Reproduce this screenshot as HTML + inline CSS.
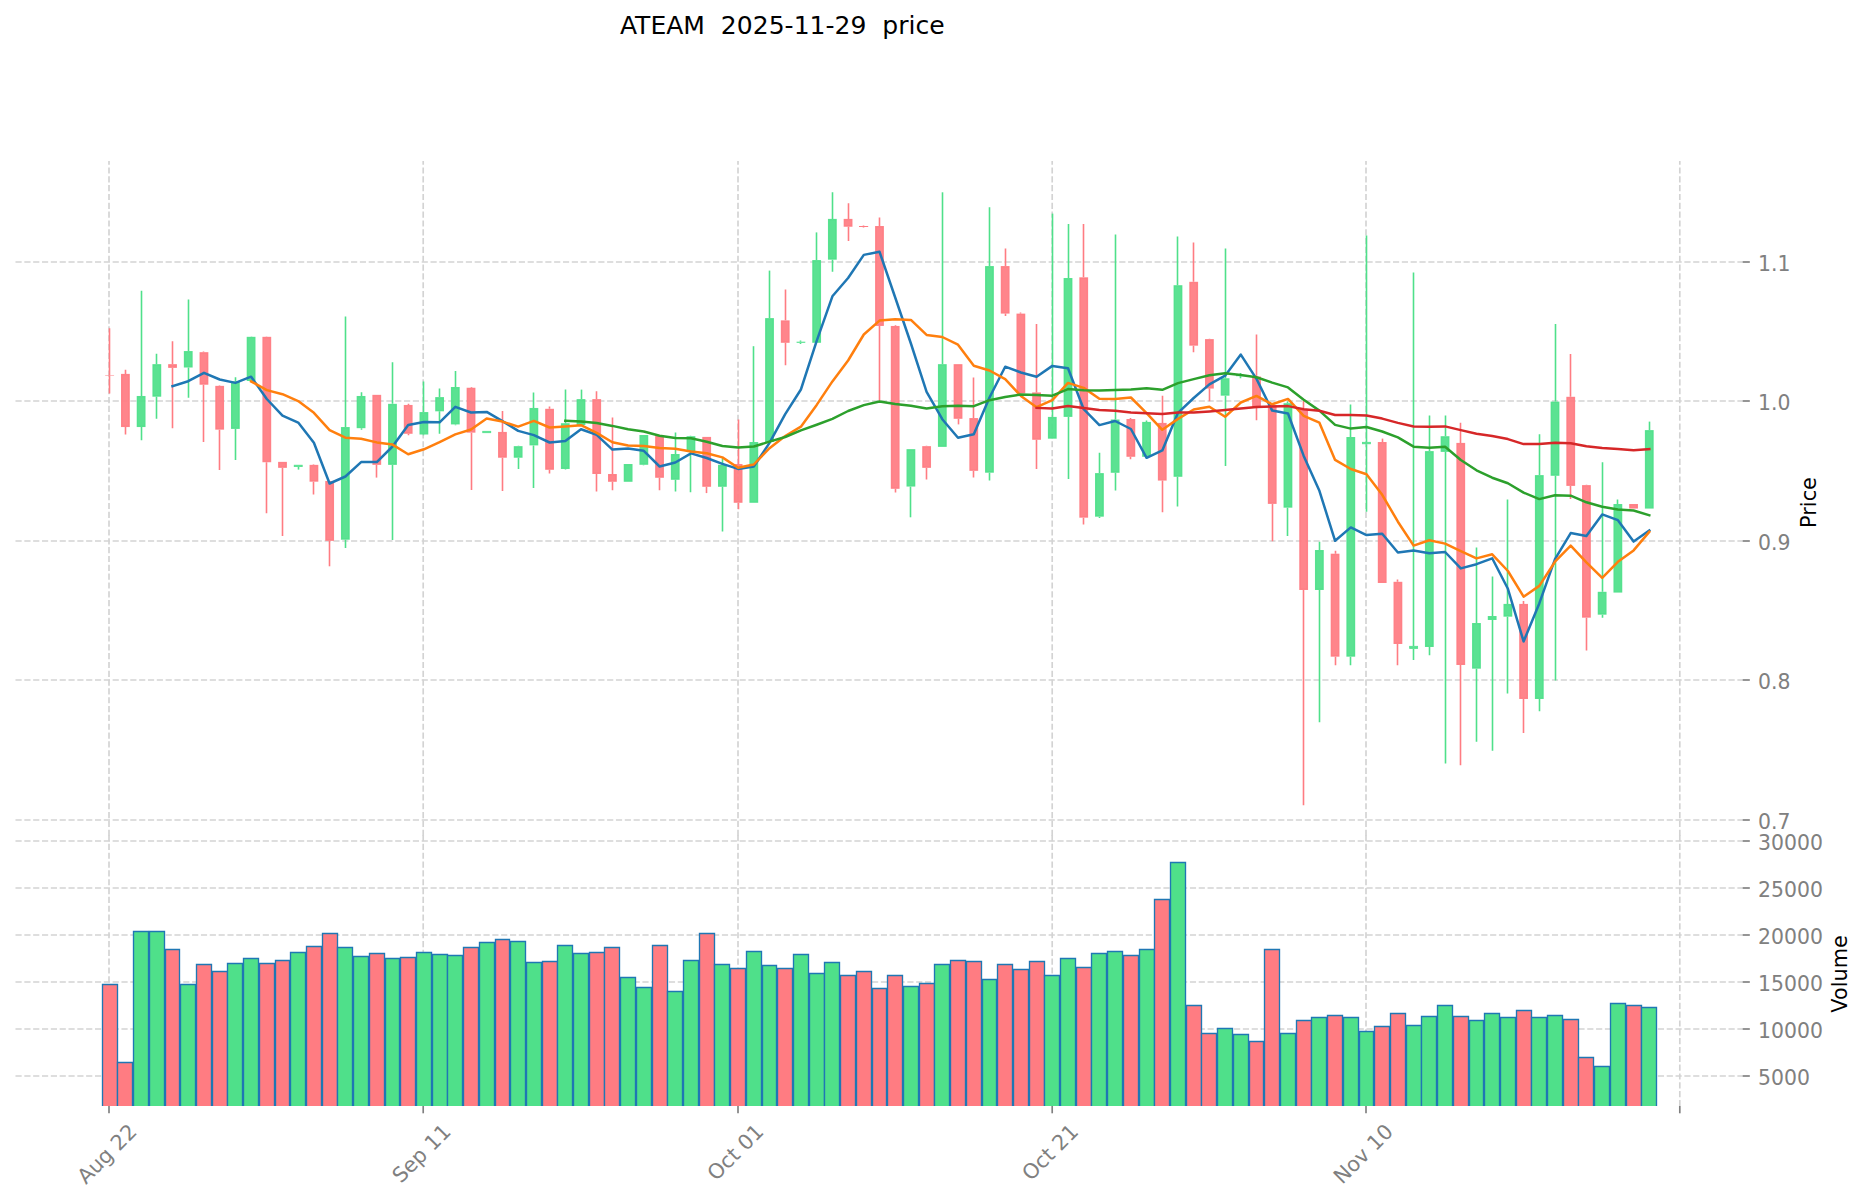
<!DOCTYPE html>
<html lang="en"><head><meta charset="utf-8"><title>ATEAM 2025-11-29 price</title>
<style>html,body{margin:0;padding:0;background:#fff}body{width:1867px;height:1202px;overflow:hidden}</style>
</head><body>
<svg width="1867" height="1202" viewBox="0 0 1867 1202" style="display:block">
<rect width="1867" height="1202" fill="#fff"/>
<g stroke="#d3d3d3" stroke-width="1.67" stroke-dasharray="6.17 2.66" fill="none">
<path d="M15.5 262H1742"/>
<path d="M15.5 401H1742"/>
<path d="M15.5 541H1742"/>
<path d="M15.5 680H1742"/>
<path d="M15.5 820H1742"/>
<path d="M15.5 841H1742"/>
<path d="M15.5 888H1742"/>
<path d="M15.5 935H1742"/>
<path d="M15.5 982H1742"/>
<path d="M15.5 1029H1742"/>
<path d="M15.5 1076H1742"/>
<path d="M109.0 161V836" stroke-dashoffset="2.43"/>
<path d="M109.0 835V1106"/>
<path d="M423.2 161V836" stroke-dashoffset="2.43"/>
<path d="M423.2 835V1106"/>
<path d="M738.0 161V836" stroke-dashoffset="2.43"/>
<path d="M738.0 835V1106"/>
<path d="M1052.2 161V836" stroke-dashoffset="2.43"/>
<path d="M1052.2 835V1106"/>
<path d="M1366.0 161V836" stroke-dashoffset="2.43"/>
<path d="M1366.0 835V1106"/>
<path d="M1679.8 161V836" stroke-dashoffset="2.43"/>
<path d="M1679.8 835V1106"/>
</g>
<g stroke="#1f77b4" stroke-width="1.35">
<path d="M102.5 1106V984.5H117.5V1106" fill="#ff7c82"/>
<path d="M117.5 1106V1062.5H132.5V1106" fill="#ff7c82"/>
<path d="M133.5 1106V931.5H148.5V1106" fill="#4fe08a"/>
<path d="M149.5 1106V931.5H164.5V1106" fill="#4fe08a"/>
<path d="M165.5 1106V949.5H179.5V1106" fill="#ff7c82"/>
<path d="M180.5 1106V984.5H195.5V1106" fill="#4fe08a"/>
<path d="M196.5 1106V964.5H211.5V1106" fill="#ff7c82"/>
<path d="M212.5 1106V971.5H227.5V1106" fill="#ff7c82"/>
<path d="M227.5 1106V963.5H242.5V1106" fill="#4fe08a"/>
<path d="M243.5 1106V958.5H258.5V1106" fill="#4fe08a"/>
<path d="M259.5 1106V963.5H274.5V1106" fill="#ff7c82"/>
<path d="M275.5 1106V960.5H289.5V1106" fill="#ff7c82"/>
<path d="M290.5 1106V952.5H305.5V1106" fill="#4fe08a"/>
<path d="M306.5 1106V946.5H321.5V1106" fill="#ff7c82"/>
<path d="M322.5 1106V933.5H337.5V1106" fill="#ff7c82"/>
<path d="M337.5 1106V947.5H352.5V1106" fill="#4fe08a"/>
<path d="M353.5 1106V956.5H368.5V1106" fill="#4fe08a"/>
<path d="M369.5 1106V953.5H384.5V1106" fill="#ff7c82"/>
<path d="M385.5 1106V958.5H399.5V1106" fill="#4fe08a"/>
<path d="M400.5 1106V957.5H415.5V1106" fill="#ff7c82"/>
<path d="M416.5 1106V952.5H431.5V1106" fill="#4fe08a"/>
<path d="M432.5 1106V954.5H447.5V1106" fill="#4fe08a"/>
<path d="M447.5 1106V955.5H462.5V1106" fill="#4fe08a"/>
<path d="M463.5 1106V947.5H478.5V1106" fill="#ff7c82"/>
<path d="M479.5 1106V942.5H494.5V1106" fill="#4fe08a"/>
<path d="M495.5 1106V939.5H509.5V1106" fill="#ff7c82"/>
<path d="M510.5 1106V941.5H525.5V1106" fill="#4fe08a"/>
<path d="M526.5 1106V962.5H541.5V1106" fill="#4fe08a"/>
<path d="M542.5 1106V961.5H557.5V1106" fill="#ff7c82"/>
<path d="M557.5 1106V945.5H572.5V1106" fill="#4fe08a"/>
<path d="M573.5 1106V953.5H588.5V1106" fill="#4fe08a"/>
<path d="M589.5 1106V952.5H604.5V1106" fill="#ff7c82"/>
<path d="M604.5 1106V947.5H619.5V1106" fill="#ff7c82"/>
<path d="M620.5 1106V977.5H635.5V1106" fill="#4fe08a"/>
<path d="M636.5 1106V987.5H651.5V1106" fill="#4fe08a"/>
<path d="M652.5 1106V945.5H667.5V1106" fill="#ff7c82"/>
<path d="M667.5 1106V991.5H682.5V1106" fill="#4fe08a"/>
<path d="M683.5 1106V960.5H698.5V1106" fill="#4fe08a"/>
<path d="M699.5 1106V933.5H714.5V1106" fill="#ff7c82"/>
<path d="M714.5 1106V964.5H729.5V1106" fill="#4fe08a"/>
<path d="M730.5 1106V968.5H745.5V1106" fill="#ff7c82"/>
<path d="M746.5 1106V951.5H761.5V1106" fill="#4fe08a"/>
<path d="M762.5 1106V965.5H776.5V1106" fill="#4fe08a"/>
<path d="M777.5 1106V968.5H792.5V1106" fill="#ff7c82"/>
<path d="M793.5 1106V954.5H808.5V1106" fill="#4fe08a"/>
<path d="M809.5 1106V973.5H824.5V1106" fill="#4fe08a"/>
<path d="M824.5 1106V962.5H839.5V1106" fill="#4fe08a"/>
<path d="M840.5 1106V975.5H855.5V1106" fill="#ff7c82"/>
<path d="M856.5 1106V971.5H871.5V1106" fill="#ff7c82"/>
<path d="M872.5 1106V988.5H886.5V1106" fill="#ff7c82"/>
<path d="M887.5 1106V975.5H902.5V1106" fill="#ff7c82"/>
<path d="M903.5 1106V986.5H918.5V1106" fill="#4fe08a"/>
<path d="M919.5 1106V983.5H934.5V1106" fill="#ff7c82"/>
<path d="M934.5 1106V964.5H949.5V1106" fill="#4fe08a"/>
<path d="M950.5 1106V960.5H965.5V1106" fill="#ff7c82"/>
<path d="M966.5 1106V961.5H981.5V1106" fill="#ff7c82"/>
<path d="M982.5 1106V979.5H996.5V1106" fill="#4fe08a"/>
<path d="M997.5 1106V964.5H1012.5V1106" fill="#ff7c82"/>
<path d="M1013.5 1106V969.5H1028.5V1106" fill="#ff7c82"/>
<path d="M1029.5 1106V961.5H1044.5V1106" fill="#ff7c82"/>
<path d="M1044.5 1106V975.5H1059.5V1106" fill="#4fe08a"/>
<path d="M1060.5 1106V958.5H1075.5V1106" fill="#4fe08a"/>
<path d="M1076.5 1106V967.5H1091.5V1106" fill="#ff7c82"/>
<path d="M1091.5 1106V953.5H1106.5V1106" fill="#4fe08a"/>
<path d="M1107.5 1106V951.5H1122.5V1106" fill="#4fe08a"/>
<path d="M1123.5 1106V955.5H1138.5V1106" fill="#ff7c82"/>
<path d="M1139.5 1106V949.5H1154.5V1106" fill="#4fe08a"/>
<path d="M1154.5 1106V899.5H1169.5V1106" fill="#ff7c82"/>
<path d="M1170.5 1106V862.5H1185.5V1106" fill="#4fe08a"/>
<path d="M1186.5 1106V1005.5H1201.5V1106" fill="#ff7c82"/>
<path d="M1201.5 1106V1033.5H1216.5V1106" fill="#ff7c82"/>
<path d="M1217.5 1106V1028.5H1232.5V1106" fill="#4fe08a"/>
<path d="M1233.5 1106V1034.5H1248.5V1106" fill="#4fe08a"/>
<path d="M1249.5 1106V1041.5H1263.5V1106" fill="#ff7c82"/>
<path d="M1264.5 1106V949.5H1279.5V1106" fill="#ff7c82"/>
<path d="M1280.5 1106V1033.5H1295.5V1106" fill="#4fe08a"/>
<path d="M1296.5 1106V1020.5H1311.5V1106" fill="#ff7c82"/>
<path d="M1311.5 1106V1017.5H1326.5V1106" fill="#4fe08a"/>
<path d="M1327.5 1106V1015.5H1342.5V1106" fill="#ff7c82"/>
<path d="M1343.5 1106V1017.5H1358.5V1106" fill="#4fe08a"/>
<path d="M1359.5 1106V1031.5H1373.5V1106" fill="#4fe08a"/>
<path d="M1374.5 1106V1026.5H1389.5V1106" fill="#ff7c82"/>
<path d="M1390.5 1106V1013.5H1405.5V1106" fill="#ff7c82"/>
<path d="M1406.5 1106V1025.5H1421.5V1106" fill="#4fe08a"/>
<path d="M1421.5 1106V1016.5H1436.5V1106" fill="#4fe08a"/>
<path d="M1437.5 1106V1005.5H1452.5V1106" fill="#4fe08a"/>
<path d="M1453.5 1106V1016.5H1468.5V1106" fill="#ff7c82"/>
<path d="M1469.5 1106V1020.5H1483.5V1106" fill="#4fe08a"/>
<path d="M1484.5 1106V1013.5H1499.5V1106" fill="#4fe08a"/>
<path d="M1500.5 1106V1017.5H1515.5V1106" fill="#4fe08a"/>
<path d="M1516.5 1106V1010.5H1531.5V1106" fill="#ff7c82"/>
<path d="M1531.5 1106V1017.5H1546.5V1106" fill="#4fe08a"/>
<path d="M1547.5 1106V1015.5H1562.5V1106" fill="#4fe08a"/>
<path d="M1563.5 1106V1019.5H1578.5V1106" fill="#ff7c82"/>
<path d="M1578.5 1106V1057.5H1593.5V1106" fill="#ff7c82"/>
<path d="M1594.5 1106V1066.5H1609.5V1106" fill="#4fe08a"/>
<path d="M1610.5 1106V1003.5H1625.5V1106" fill="#4fe08a"/>
<path d="M1626.5 1106V1005.5H1641.5V1106" fill="#ff7c82"/>
<path d="M1641.5 1106V1007.5H1656.5V1106" fill="#4fe08a"/>
</g>
<g fill="#ff7c82" stroke="#ff7c82" fill-opacity="0.93" stroke-opacity="0.93">
<path d="M109.5 328.3V375.0M109.5 375.6V393.6" stroke-width="1.6" stroke-opacity="1" fill="none"/>
<rect x="105.45" y="375.15" width="8.50" height="0.30" stroke-width="0.30000000000001137"/>
</g>
<g fill="#ff7c82" stroke="#ff7c82" fill-opacity="0.93" stroke-opacity="0.93">
<path d="M125.5 369.8V373.9M125.5 427.0V434.5" stroke-width="1.6" stroke-opacity="1" fill="none"/>
<rect x="121.71" y="374.59" width="7.40" height="51.76" stroke-width="1.4"/>
</g>
<g fill="#4fe08a" stroke="#4fe08a" fill-opacity="0.93" stroke-opacity="0.93">
<path d="M141.5 290.8V396.0M141.5 427.0V440.2" stroke-width="1.6" stroke-opacity="1" fill="none"/>
<rect x="137.42" y="396.68" width="7.40" height="29.67" stroke-width="1.4"/>
</g>
<g fill="#4fe08a" stroke="#4fe08a" fill-opacity="0.93" stroke-opacity="0.93">
<path d="M156.5 353.7V364.2M156.5 396.7V418.8" stroke-width="1.6" stroke-opacity="1" fill="none"/>
<rect x="153.13" y="364.85" width="7.40" height="31.17" stroke-width="1.4"/>
</g>
<g fill="#ff7c82" stroke="#ff7c82" fill-opacity="0.93" stroke-opacity="0.93">
<path d="M172.5 341.3V364.2M172.5 367.9V428.2" stroke-width="1.6" stroke-opacity="1" fill="none"/>
<rect x="168.84" y="364.85" width="7.40" height="2.34" stroke-width="1.4"/>
</g>
<g fill="#4fe08a" stroke="#4fe08a" fill-opacity="0.93" stroke-opacity="0.93">
<path d="M188.5 299.4V351.0M188.5 367.5V397.8" stroke-width="1.6" stroke-opacity="1" fill="none"/>
<rect x="184.55" y="351.75" width="7.40" height="15.07" stroke-width="1.4"/>
</g>
<g fill="#ff7c82" stroke="#ff7c82" fill-opacity="0.93" stroke-opacity="0.93">
<path d="M203.5 351.4V352.2M203.5 384.7V442.0" stroke-width="1.6" stroke-opacity="1" fill="none"/>
<rect x="200.26" y="352.87" width="7.40" height="31.17" stroke-width="1.4"/>
</g>
<g fill="#ff7c82" stroke="#ff7c82" fill-opacity="0.93" stroke-opacity="0.93">
<path d="M219.5 385.5V385.9M219.5 429.7V470.1" stroke-width="1.6" stroke-opacity="1" fill="none"/>
<rect x="215.97" y="386.57" width="7.40" height="42.40" stroke-width="1.4"/>
</g>
<g fill="#4fe08a" stroke="#4fe08a" fill-opacity="0.93" stroke-opacity="0.93">
<path d="M235.5 377.3V381.4M235.5 428.9V460.0" stroke-width="1.6" stroke-opacity="1" fill="none"/>
<rect x="231.68" y="382.07" width="7.40" height="46.15" stroke-width="1.4"/>
</g>
<g fill="#4fe08a" stroke="#4fe08a" fill-opacity="0.93" stroke-opacity="0.93">
<path d="M251.5 336.4V336.8M251.5 381.0V382.1" stroke-width="1.6" stroke-opacity="1" fill="none"/>
<rect x="247.39" y="337.52" width="7.40" height="42.78" stroke-width="1.4"/>
</g>
<g fill="#ff7c82" stroke="#ff7c82" fill-opacity="0.93" stroke-opacity="0.93">
<path d="M266.5 336.4V336.8M266.5 462.2V513.2" stroke-width="1.6" stroke-opacity="1" fill="none"/>
<rect x="263.10" y="337.52" width="7.40" height="124.02" stroke-width="1.4"/>
</g>
<g fill="#ff7c82" stroke="#ff7c82" fill-opacity="0.93" stroke-opacity="0.93">
<path d="M282.5 461.9V461.9M282.5 467.9V536.0" stroke-width="1.6" stroke-opacity="1" fill="none"/>
<rect x="278.81" y="462.57" width="7.40" height="4.59" stroke-width="1.4"/>
</g>
<g fill="#4fe08a" stroke="#4fe08a" fill-opacity="0.93" stroke-opacity="0.93">
<path d="M298.5 464.8V464.8M298.5 467.0V469.6" stroke-width="1.6" stroke-opacity="1" fill="none"/>
<rect x="294.22" y="465.20" width="8.00" height="1.40" stroke-width="0.8"/>
</g>
<g fill="#ff7c82" stroke="#ff7c82" fill-opacity="0.93" stroke-opacity="0.93">
<path d="M313.5 464.5V464.9M313.5 481.7V494.4" stroke-width="1.6" stroke-opacity="1" fill="none"/>
<rect x="310.23" y="465.56" width="7.40" height="15.45" stroke-width="1.4"/>
</g>
<g fill="#ff7c82" stroke="#ff7c82" fill-opacity="0.93" stroke-opacity="0.93">
<path d="M329.5 481.0V481.0M329.5 540.9V566.3" stroke-width="1.6" stroke-opacity="1" fill="none"/>
<rect x="325.94" y="481.66" width="7.40" height="58.50" stroke-width="1.4"/>
</g>
<g fill="#4fe08a" stroke="#4fe08a" fill-opacity="0.93" stroke-opacity="0.93">
<path d="M345.5 316.6V427.0M345.5 539.7V548.0" stroke-width="1.6" stroke-opacity="1" fill="none"/>
<rect x="341.65" y="427.75" width="7.40" height="111.29" stroke-width="1.4"/>
</g>
<g fill="#4fe08a" stroke="#4fe08a" fill-opacity="0.93" stroke-opacity="0.93">
<path d="M361.5 392.2V396.0M361.5 428.2V429.7" stroke-width="1.6" stroke-opacity="1" fill="none"/>
<rect x="357.36" y="396.68" width="7.40" height="30.80" stroke-width="1.4"/>
</g>
<g fill="#ff7c82" stroke="#ff7c82" fill-opacity="0.93" stroke-opacity="0.93">
<path d="M376.5 394.9V394.9M376.5 464.9V477.6" stroke-width="1.6" stroke-opacity="1" fill="none"/>
<rect x="373.07" y="395.55" width="7.40" height="68.61" stroke-width="1.4"/>
</g>
<g fill="#4fe08a" stroke="#4fe08a" fill-opacity="0.93" stroke-opacity="0.93">
<path d="M392.5 362.3V403.8M392.5 464.9V540.1" stroke-width="1.6" stroke-opacity="1" fill="none"/>
<rect x="388.78" y="404.54" width="7.40" height="59.63" stroke-width="1.4"/>
</g>
<g fill="#ff7c82" stroke="#ff7c82" fill-opacity="0.93" stroke-opacity="0.93">
<path d="M408.5 403.8V405.0M408.5 433.8V435.3" stroke-width="1.6" stroke-opacity="1" fill="none"/>
<rect x="404.49" y="405.66" width="7.40" height="27.43" stroke-width="1.4"/>
</g>
<g fill="#4fe08a" stroke="#4fe08a" fill-opacity="0.93" stroke-opacity="0.93">
<path d="M423.5 381.4V412.1M423.5 434.5V435.3" stroke-width="1.6" stroke-opacity="1" fill="none"/>
<rect x="420.20" y="412.77" width="7.40" height="21.06" stroke-width="1.4"/>
</g>
<g fill="#4fe08a" stroke="#4fe08a" fill-opacity="0.93" stroke-opacity="0.93">
<path d="M439.5 388.5V397.1M439.5 411.3V433.8" stroke-width="1.6" stroke-opacity="1" fill="none"/>
<rect x="435.91" y="397.80" width="7.40" height="12.83" stroke-width="1.4"/>
</g>
<g fill="#4fe08a" stroke="#4fe08a" fill-opacity="0.93" stroke-opacity="0.93">
<path d="M455.5 370.9V387.0M455.5 424.4V425.2" stroke-width="1.6" stroke-opacity="1" fill="none"/>
<rect x="451.62" y="387.69" width="7.40" height="36.04" stroke-width="1.4"/>
</g>
<g fill="#ff7c82" stroke="#ff7c82" fill-opacity="0.93" stroke-opacity="0.93">
<path d="M471.5 387.0V387.7M471.5 432.7V489.9" stroke-width="1.6" stroke-opacity="1" fill="none"/>
<rect x="467.33" y="388.44" width="7.40" height="43.53" stroke-width="1.4"/>
</g>
<g fill="#4fe08a" stroke="#4fe08a" fill-opacity="0.93" stroke-opacity="0.93">
<path d="M486.5 430.9V430.9M486.5 433.1V433.1" stroke-width="1.6" stroke-opacity="1" fill="none"/>
<rect x="482.74" y="431.30" width="8.00" height="1.40" stroke-width="0.8"/>
</g>
<g fill="#ff7c82" stroke="#ff7c82" fill-opacity="0.93" stroke-opacity="0.93">
<path d="M502.5 411.0V431.9M502.5 457.7V491.1" stroke-width="1.6" stroke-opacity="1" fill="none"/>
<rect x="498.75" y="432.62" width="7.40" height="24.43" stroke-width="1.4"/>
</g>
<g fill="#4fe08a" stroke="#4fe08a" fill-opacity="0.93" stroke-opacity="0.93">
<path d="M518.5 445.8V446.1M518.5 457.7V469.0" stroke-width="1.6" stroke-opacity="1" fill="none"/>
<rect x="514.46" y="446.84" width="7.40" height="10.21" stroke-width="1.4"/>
</g>
<g fill="#4fe08a" stroke="#4fe08a" fill-opacity="0.93" stroke-opacity="0.93">
<path d="M533.5 392.6V408.0M533.5 445.4V488.1" stroke-width="1.6" stroke-opacity="1" fill="none"/>
<rect x="530.17" y="408.66" width="7.40" height="36.04" stroke-width="1.4"/>
</g>
<g fill="#ff7c82" stroke="#ff7c82" fill-opacity="0.93" stroke-opacity="0.93">
<path d="M549.5 406.6V408.8M549.5 469.8V473.6" stroke-width="1.6" stroke-opacity="1" fill="none"/>
<rect x="545.88" y="409.50" width="7.40" height="59.60" stroke-width="1.4"/>
</g>
<g fill="#4fe08a" stroke="#4fe08a" fill-opacity="0.93" stroke-opacity="0.93">
<path d="M565.5 389.6V423.2M565.5 469.0V469.5" stroke-width="1.6" stroke-opacity="1" fill="none"/>
<rect x="561.59" y="423.90" width="7.40" height="44.40" stroke-width="1.4"/>
</g>
<g fill="#4fe08a" stroke="#4fe08a" fill-opacity="0.93" stroke-opacity="0.93">
<path d="M581.5 389.6V399.1M581.5 425.0V425.0" stroke-width="1.6" stroke-opacity="1" fill="none"/>
<rect x="577.30" y="399.80" width="7.40" height="24.50" stroke-width="1.4"/>
</g>
<g fill="#ff7c82" stroke="#ff7c82" fill-opacity="0.93" stroke-opacity="0.93">
<path d="M596.5 391.3V399.1M596.5 474.0V491.4" stroke-width="1.6" stroke-opacity="1" fill="none"/>
<rect x="593.01" y="399.80" width="7.40" height="73.50" stroke-width="1.4"/>
</g>
<g fill="#ff7c82" stroke="#ff7c82" fill-opacity="0.93" stroke-opacity="0.93">
<path d="M612.5 417.4V474.0M612.5 481.8V490.3" stroke-width="1.6" stroke-opacity="1" fill="none"/>
<rect x="608.72" y="474.70" width="7.40" height="6.40" stroke-width="1.4"/>
</g>
<g fill="#4fe08a" stroke="#4fe08a" fill-opacity="0.93" stroke-opacity="0.93">
<path d="M628.5 464.0V464.0M628.5 481.8V481.8" stroke-width="1.6" stroke-opacity="1" fill="none"/>
<rect x="624.43" y="464.70" width="7.40" height="16.40" stroke-width="1.4"/>
</g>
<g fill="#4fe08a" stroke="#4fe08a" fill-opacity="0.93" stroke-opacity="0.93">
<path d="M643.5 435.0V435.0M643.5 464.8V465.3" stroke-width="1.6" stroke-opacity="1" fill="none"/>
<rect x="640.14" y="435.70" width="7.40" height="28.40" stroke-width="1.4"/>
</g>
<g fill="#ff7c82" stroke="#ff7c82" fill-opacity="0.93" stroke-opacity="0.93">
<path d="M659.5 435.7V436.0M659.5 477.8V490.3" stroke-width="1.6" stroke-opacity="1" fill="none"/>
<rect x="655.85" y="436.70" width="7.40" height="40.40" stroke-width="1.4"/>
</g>
<g fill="#4fe08a" stroke="#4fe08a" fill-opacity="0.93" stroke-opacity="0.93">
<path d="M675.5 432.5V454.0M675.5 479.8V491.4" stroke-width="1.6" stroke-opacity="1" fill="none"/>
<rect x="671.56" y="454.70" width="7.40" height="24.40" stroke-width="1.4"/>
</g>
<g fill="#4fe08a" stroke="#4fe08a" fill-opacity="0.93" stroke-opacity="0.93">
<path d="M690.5 435.7V436.2M690.5 452.0V492.3" stroke-width="1.6" stroke-opacity="1" fill="none"/>
<rect x="687.27" y="436.90" width="7.40" height="14.40" stroke-width="1.4"/>
</g>
<g fill="#ff7c82" stroke="#ff7c82" fill-opacity="0.93" stroke-opacity="0.93">
<path d="M706.5 436.9V436.9M706.5 486.8V493.1" stroke-width="1.6" stroke-opacity="1" fill="none"/>
<rect x="702.98" y="437.60" width="7.40" height="48.50" stroke-width="1.4"/>
</g>
<g fill="#4fe08a" stroke="#4fe08a" fill-opacity="0.93" stroke-opacity="0.93">
<path d="M722.5 458.2V464.8M722.5 486.8V531.4" stroke-width="1.6" stroke-opacity="1" fill="none"/>
<rect x="718.69" y="465.50" width="7.40" height="20.60" stroke-width="1.4"/>
</g>
<g fill="#ff7c82" stroke="#ff7c82" fill-opacity="0.93" stroke-opacity="0.93">
<path d="M738.5 419.4V464.0M738.5 502.8V509.3" stroke-width="1.6" stroke-opacity="1" fill="none"/>
<rect x="734.40" y="464.70" width="7.40" height="37.40" stroke-width="1.4"/>
</g>
<g fill="#4fe08a" stroke="#4fe08a" fill-opacity="0.93" stroke-opacity="0.93">
<path d="M753.5 346.2V442.0M753.5 502.8V502.8" stroke-width="1.6" stroke-opacity="1" fill="none"/>
<rect x="750.11" y="442.70" width="7.40" height="59.40" stroke-width="1.4"/>
</g>
<g fill="#4fe08a" stroke="#4fe08a" fill-opacity="0.93" stroke-opacity="0.93">
<path d="M769.5 270.6V318.1M769.5 442.0V442.0" stroke-width="1.6" stroke-opacity="1" fill="none"/>
<rect x="765.82" y="318.80" width="7.40" height="122.52" stroke-width="1.4"/>
</g>
<g fill="#ff7c82" stroke="#ff7c82" fill-opacity="0.93" stroke-opacity="0.93">
<path d="M785.5 289.6V320.3M785.5 342.8V365.3" stroke-width="1.6" stroke-opacity="1" fill="none"/>
<rect x="781.53" y="321.05" width="7.40" height="21.06" stroke-width="1.4"/>
</g>
<g fill="#4fe08a" stroke="#4fe08a" fill-opacity="0.93" stroke-opacity="0.93">
<path d="M800.5 340.6V341.7M800.5 342.9V343.9" stroke-width="1.6" stroke-opacity="1" fill="none"/>
<rect x="796.84" y="342.00" width="8.20" height="0.60" stroke-width="0.5999999999999943"/>
</g>
<g fill="#4fe08a" stroke="#4fe08a" fill-opacity="0.93" stroke-opacity="0.93">
<path d="M816.5 232.4V260.1M816.5 342.8V342.8" stroke-width="1.6" stroke-opacity="1" fill="none"/>
<rect x="812.95" y="260.77" width="7.40" height="81.34" stroke-width="1.4"/>
</g>
<g fill="#4fe08a" stroke="#4fe08a" fill-opacity="0.93" stroke-opacity="0.93">
<path d="M832.5 192.3V218.9M832.5 259.7V271.7" stroke-width="1.6" stroke-opacity="1" fill="none"/>
<rect x="828.66" y="219.59" width="7.40" height="39.41" stroke-width="1.4"/>
</g>
<g fill="#ff7c82" stroke="#ff7c82" fill-opacity="0.93" stroke-opacity="0.93">
<path d="M848.5 203.2V218.9M848.5 226.8V241.0" stroke-width="1.6" stroke-opacity="1" fill="none"/>
<rect x="844.37" y="219.59" width="7.40" height="6.46" stroke-width="1.4"/>
</g>
<g fill="#ff7c82" stroke="#ff7c82" fill-opacity="0.93" stroke-opacity="0.93">
<path d="M863.5 225.4V226.0M863.5 227.0V227.6" stroke-width="1.6" stroke-opacity="1" fill="none"/>
<rect x="859.63" y="226.25" width="8.30" height="0.50" stroke-width="0.5"/>
</g>
<g fill="#ff7c82" stroke="#ff7c82" fill-opacity="0.93" stroke-opacity="0.93">
<path d="M879.5 217.4V226.0M879.5 326.0V400.8" stroke-width="1.6" stroke-opacity="1" fill="none"/>
<rect x="875.79" y="226.70" width="7.40" height="98.56" stroke-width="1.4"/>
</g>
<g fill="#ff7c82" stroke="#ff7c82" fill-opacity="0.93" stroke-opacity="0.93">
<path d="M895.5 325.2V326.0M895.5 488.8V492.6" stroke-width="1.6" stroke-opacity="1" fill="none"/>
<rect x="891.50" y="326.66" width="7.40" height="161.46" stroke-width="1.4"/>
</g>
<g fill="#4fe08a" stroke="#4fe08a" fill-opacity="0.93" stroke-opacity="0.93">
<path d="M910.5 449.1V449.1M910.5 486.6V517.3" stroke-width="1.6" stroke-opacity="1" fill="none"/>
<rect x="907.21" y="449.84" width="7.40" height="36.04" stroke-width="1.4"/>
</g>
<g fill="#ff7c82" stroke="#ff7c82" fill-opacity="0.93" stroke-opacity="0.93">
<path d="M926.5 445.8V446.1M926.5 467.9V479.5" stroke-width="1.6" stroke-opacity="1" fill="none"/>
<rect x="922.92" y="446.84" width="7.40" height="20.31" stroke-width="1.4"/>
</g>
<g fill="#4fe08a" stroke="#4fe08a" fill-opacity="0.93" stroke-opacity="0.93">
<path d="M942.5 192.3V364.2M942.5 446.9V446.9" stroke-width="1.6" stroke-opacity="1" fill="none"/>
<rect x="938.63" y="364.85" width="7.40" height="81.34" stroke-width="1.4"/>
</g>
<g fill="#ff7c82" stroke="#ff7c82" fill-opacity="0.93" stroke-opacity="0.93">
<path d="M958.5 364.2V364.2M958.5 418.8V424.4" stroke-width="1.6" stroke-opacity="1" fill="none"/>
<rect x="954.34" y="364.85" width="7.40" height="53.26" stroke-width="1.4"/>
</g>
<g fill="#ff7c82" stroke="#ff7c82" fill-opacity="0.93" stroke-opacity="0.93">
<path d="M973.5 377.6V418.1M973.5 470.9V477.6" stroke-width="1.6" stroke-opacity="1" fill="none"/>
<rect x="970.05" y="418.76" width="7.40" height="51.39" stroke-width="1.4"/>
</g>
<g fill="#4fe08a" stroke="#4fe08a" fill-opacity="0.93" stroke-opacity="0.93">
<path d="M989.5 207.3V266.1M989.5 472.7V480.6" stroke-width="1.6" stroke-opacity="1" fill="none"/>
<rect x="985.76" y="266.76" width="7.40" height="205.26" stroke-width="1.4"/>
</g>
<g fill="#ff7c82" stroke="#ff7c82" fill-opacity="0.93" stroke-opacity="0.93">
<path d="M1005.5 248.5V266.1M1005.5 313.6V315.9" stroke-width="1.6" stroke-opacity="1" fill="none"/>
<rect x="1001.47" y="266.76" width="7.40" height="46.15" stroke-width="1.4"/>
</g>
<g fill="#ff7c82" stroke="#ff7c82" fill-opacity="0.93" stroke-opacity="0.93">
<path d="M1020.5 312.5V313.6M1020.5 393.4V393.4" stroke-width="1.6" stroke-opacity="1" fill="none"/>
<rect x="1017.18" y="314.31" width="7.40" height="78.35" stroke-width="1.4"/>
</g>
<g fill="#ff7c82" stroke="#ff7c82" fill-opacity="0.93" stroke-opacity="0.93">
<path d="M1036.5 324.1V392.4M1036.5 439.8V469.0" stroke-width="1.6" stroke-opacity="1" fill="none"/>
<rect x="1032.89" y="393.10" width="7.40" height="46.00" stroke-width="1.4"/>
</g>
<g fill="#4fe08a" stroke="#4fe08a" fill-opacity="0.93" stroke-opacity="0.93">
<path d="M1052.5 213.6V416.9M1052.5 438.7V438.7" stroke-width="1.6" stroke-opacity="1" fill="none"/>
<rect x="1048.60" y="417.60" width="7.40" height="20.40" stroke-width="1.4"/>
</g>
<g fill="#4fe08a" stroke="#4fe08a" fill-opacity="0.93" stroke-opacity="0.93">
<path d="M1068.5 224.1V278.0M1068.5 416.9V478.9" stroke-width="1.6" stroke-opacity="1" fill="none"/>
<rect x="1064.31" y="278.70" width="7.40" height="137.50" stroke-width="1.4"/>
</g>
<g fill="#ff7c82" stroke="#ff7c82" fill-opacity="0.93" stroke-opacity="0.93">
<path d="M1083.5 224.1V277.3M1083.5 517.7V524.4" stroke-width="1.6" stroke-opacity="1" fill="none"/>
<rect x="1080.02" y="278.00" width="7.40" height="239.00" stroke-width="1.4"/>
</g>
<g fill="#4fe08a" stroke="#4fe08a" fill-opacity="0.93" stroke-opacity="0.93">
<path d="M1099.5 452.8V473.1M1099.5 516.7V518.0" stroke-width="1.6" stroke-opacity="1" fill="none"/>
<rect x="1095.73" y="473.80" width="7.40" height="42.20" stroke-width="1.4"/>
</g>
<g fill="#4fe08a" stroke="#4fe08a" fill-opacity="0.93" stroke-opacity="0.93">
<path d="M1115.5 234.6V419.5M1115.5 472.8V490.6" stroke-width="1.6" stroke-opacity="1" fill="none"/>
<rect x="1111.44" y="420.20" width="7.40" height="51.90" stroke-width="1.4"/>
</g>
<g fill="#ff7c82" stroke="#ff7c82" fill-opacity="0.93" stroke-opacity="0.93">
<path d="M1130.5 418.0V419.0M1130.5 456.8V459.3" stroke-width="1.6" stroke-opacity="1" fill="none"/>
<rect x="1127.15" y="419.70" width="7.40" height="36.40" stroke-width="1.4"/>
</g>
<g fill="#4fe08a" stroke="#4fe08a" fill-opacity="0.93" stroke-opacity="0.93">
<path d="M1146.5 420.4V421.9M1146.5 456.8V457.0" stroke-width="1.6" stroke-opacity="1" fill="none"/>
<rect x="1142.86" y="422.60" width="7.40" height="33.50" stroke-width="1.4"/>
</g>
<g fill="#ff7c82" stroke="#ff7c82" fill-opacity="0.93" stroke-opacity="0.93">
<path d="M1162.5 395.7V422.9M1162.5 480.6V512.2" stroke-width="1.6" stroke-opacity="1" fill="none"/>
<rect x="1158.57" y="423.60" width="7.40" height="56.30" stroke-width="1.4"/>
</g>
<g fill="#4fe08a" stroke="#4fe08a" fill-opacity="0.93" stroke-opacity="0.93">
<path d="M1177.5 236.5V285.2M1177.5 476.8V506.4" stroke-width="1.6" stroke-opacity="1" fill="none"/>
<rect x="1174.28" y="285.90" width="7.40" height="190.20" stroke-width="1.4"/>
</g>
<g fill="#ff7c82" stroke="#ff7c82" fill-opacity="0.93" stroke-opacity="0.93">
<path d="M1193.5 242.5V281.8M1193.5 345.7V352.3" stroke-width="1.6" stroke-opacity="1" fill="none"/>
<rect x="1189.99" y="282.50" width="7.40" height="62.50" stroke-width="1.4"/>
</g>
<g fill="#ff7c82" stroke="#ff7c82" fill-opacity="0.93" stroke-opacity="0.93">
<path d="M1209.5 338.7V339.1M1209.5 388.6V401.2" stroke-width="1.6" stroke-opacity="1" fill="none"/>
<rect x="1205.70" y="339.80" width="7.40" height="48.10" stroke-width="1.4"/>
</g>
<g fill="#4fe08a" stroke="#4fe08a" fill-opacity="0.93" stroke-opacity="0.93">
<path d="M1225.5 248.5V378.2M1225.5 395.7V466.1" stroke-width="1.6" stroke-opacity="1" fill="none"/>
<rect x="1221.41" y="378.90" width="7.40" height="16.10" stroke-width="1.4"/>
</g>
<g fill="#4fe08a" stroke="#4fe08a" fill-opacity="0.93" stroke-opacity="0.93">
<path d="M1240.5 372.9V375.2M1240.5 376.2V378.2" stroke-width="1.6" stroke-opacity="1" fill="none"/>
<rect x="1236.67" y="375.45" width="8.30" height="0.50" stroke-width="0.5"/>
</g>
<g fill="#ff7c82" stroke="#ff7c82" fill-opacity="0.93" stroke-opacity="0.93">
<path d="M1256.5 334.6V376.5M1256.5 407.0V420.3" stroke-width="1.6" stroke-opacity="1" fill="none"/>
<rect x="1252.83" y="377.20" width="7.40" height="29.10" stroke-width="1.4"/>
</g>
<g fill="#ff7c82" stroke="#ff7c82" fill-opacity="0.93" stroke-opacity="0.93">
<path d="M1272.5 404.6V405.0M1272.5 503.9V541.3" stroke-width="1.6" stroke-opacity="1" fill="none"/>
<rect x="1268.54" y="405.70" width="7.40" height="97.50" stroke-width="1.4"/>
</g>
<g fill="#4fe08a" stroke="#4fe08a" fill-opacity="0.93" stroke-opacity="0.93">
<path d="M1287.5 401.5V403.2M1287.5 507.7V536.0" stroke-width="1.6" stroke-opacity="1" fill="none"/>
<rect x="1284.25" y="403.90" width="7.40" height="103.10" stroke-width="1.4"/>
</g>
<g fill="#ff7c82" stroke="#ff7c82" fill-opacity="0.93" stroke-opacity="0.93">
<path d="M1303.5 401.0V409.5M1303.5 590.0V805.3" stroke-width="1.6" stroke-opacity="1" fill="none"/>
<rect x="1299.96" y="410.20" width="7.40" height="179.10" stroke-width="1.4"/>
</g>
<g fill="#4fe08a" stroke="#4fe08a" fill-opacity="0.93" stroke-opacity="0.93">
<path d="M1319.5 541.7V550.0M1319.5 590.0V722.2" stroke-width="1.6" stroke-opacity="1" fill="none"/>
<rect x="1315.67" y="550.70" width="7.40" height="38.60" stroke-width="1.4"/>
</g>
<g fill="#ff7c82" stroke="#ff7c82" fill-opacity="0.93" stroke-opacity="0.93">
<path d="M1335.5 550.7V553.7M1335.5 656.7V665.3" stroke-width="1.6" stroke-opacity="1" fill="none"/>
<rect x="1331.38" y="554.40" width="7.40" height="101.60" stroke-width="1.4"/>
</g>
<g fill="#4fe08a" stroke="#4fe08a" fill-opacity="0.93" stroke-opacity="0.93">
<path d="M1350.5 404.5V437.0M1350.5 656.7V665.3" stroke-width="1.6" stroke-opacity="1" fill="none"/>
<rect x="1347.09" y="437.70" width="7.40" height="218.30" stroke-width="1.4"/>
</g>
<g fill="#4fe08a" stroke="#4fe08a" fill-opacity="0.93" stroke-opacity="0.93">
<path d="M1366.5 235.4V441.9M1366.5 444.2V511.8" stroke-width="1.6" stroke-opacity="1" fill="none"/>
<rect x="1362.50" y="442.30" width="8.00" height="1.50" stroke-width="0.8"/>
</g>
<g fill="#ff7c82" stroke="#ff7c82" fill-opacity="0.93" stroke-opacity="0.93">
<path d="M1382.5 438.6V442.0M1382.5 583.0V583.0" stroke-width="1.6" stroke-opacity="1" fill="none"/>
<rect x="1378.51" y="442.70" width="7.40" height="139.60" stroke-width="1.4"/>
</g>
<g fill="#ff7c82" stroke="#ff7c82" fill-opacity="0.93" stroke-opacity="0.93">
<path d="M1397.5 579.6V581.8M1397.5 644.0V665.3" stroke-width="1.6" stroke-opacity="1" fill="none"/>
<rect x="1394.22" y="582.50" width="7.40" height="60.80" stroke-width="1.4"/>
</g>
<g fill="#4fe08a" stroke="#4fe08a" fill-opacity="0.93" stroke-opacity="0.93">
<path d="M1413.5 272.5V645.9M1413.5 648.9V660.0" stroke-width="1.6" stroke-opacity="1" fill="none"/>
<rect x="1409.63" y="646.30" width="8.00" height="2.20" stroke-width="0.8"/>
</g>
<g fill="#4fe08a" stroke="#4fe08a" fill-opacity="0.93" stroke-opacity="0.93">
<path d="M1429.5 415.6V451.1M1429.5 647.0V655.2" stroke-width="1.6" stroke-opacity="1" fill="none"/>
<rect x="1425.64" y="451.80" width="7.40" height="194.50" stroke-width="1.4"/>
</g>
<g fill="#4fe08a" stroke="#4fe08a" fill-opacity="0.93" stroke-opacity="0.93">
<path d="M1445.5 415.6V436.2M1445.5 451.9V763.4" stroke-width="1.6" stroke-opacity="1" fill="none"/>
<rect x="1441.35" y="436.90" width="7.40" height="14.30" stroke-width="1.4"/>
</g>
<g fill="#ff7c82" stroke="#ff7c82" fill-opacity="0.93" stroke-opacity="0.93">
<path d="M1460.5 422.7V442.9M1460.5 665.0V765.3" stroke-width="1.6" stroke-opacity="1" fill="none"/>
<rect x="1457.06" y="443.60" width="7.40" height="220.70" stroke-width="1.4"/>
</g>
<g fill="#4fe08a" stroke="#4fe08a" fill-opacity="0.93" stroke-opacity="0.93">
<path d="M1476.5 547.4V623.0M1476.5 668.7V741.7" stroke-width="1.6" stroke-opacity="1" fill="none"/>
<rect x="1472.77" y="623.70" width="7.40" height="44.30" stroke-width="1.4"/>
</g>
<g fill="#4fe08a" stroke="#4fe08a" fill-opacity="0.93" stroke-opacity="0.93">
<path d="M1492.5 576.5V616.0M1492.5 620.0V750.7" stroke-width="1.6" stroke-opacity="1" fill="none"/>
<rect x="1488.48" y="616.70" width="7.40" height="2.60" stroke-width="1.4"/>
</g>
<g fill="#4fe08a" stroke="#4fe08a" fill-opacity="0.93" stroke-opacity="0.93">
<path d="M1507.5 499.5V603.9M1507.5 616.7V693.5" stroke-width="1.6" stroke-opacity="1" fill="none"/>
<rect x="1504.19" y="604.60" width="7.40" height="11.40" stroke-width="1.4"/>
</g>
<g fill="#ff7c82" stroke="#ff7c82" fill-opacity="0.93" stroke-opacity="0.93">
<path d="M1523.5 600.9V603.9M1523.5 699.0V733.1" stroke-width="1.6" stroke-opacity="1" fill="none"/>
<rect x="1519.90" y="604.60" width="7.40" height="93.70" stroke-width="1.4"/>
</g>
<g fill="#4fe08a" stroke="#4fe08a" fill-opacity="0.93" stroke-opacity="0.93">
<path d="M1539.5 434.3V475.1M1539.5 699.0V711.3" stroke-width="1.6" stroke-opacity="1" fill="none"/>
<rect x="1535.61" y="475.80" width="7.40" height="222.50" stroke-width="1.4"/>
</g>
<g fill="#4fe08a" stroke="#4fe08a" fill-opacity="0.93" stroke-opacity="0.93">
<path d="M1555.5 324.1V401.6M1555.5 475.8V680.6" stroke-width="1.6" stroke-opacity="1" fill="none"/>
<rect x="1551.32" y="402.30" width="7.40" height="72.80" stroke-width="1.4"/>
</g>
<g fill="#ff7c82" stroke="#ff7c82" fill-opacity="0.93" stroke-opacity="0.93">
<path d="M1570.5 354.1V396.8M1570.5 485.9V499.0" stroke-width="1.6" stroke-opacity="1" fill="none"/>
<rect x="1567.03" y="397.50" width="7.40" height="87.70" stroke-width="1.4"/>
</g>
<g fill="#ff7c82" stroke="#ff7c82" fill-opacity="0.93" stroke-opacity="0.93">
<path d="M1586.5 484.7V485.1M1586.5 617.7V650.6" stroke-width="1.6" stroke-opacity="1" fill="none"/>
<rect x="1582.74" y="485.80" width="7.40" height="131.20" stroke-width="1.4"/>
</g>
<g fill="#4fe08a" stroke="#4fe08a" fill-opacity="0.93" stroke-opacity="0.93">
<path d="M1602.5 462.3V591.8M1602.5 614.7V617.7" stroke-width="1.6" stroke-opacity="1" fill="none"/>
<rect x="1598.45" y="592.50" width="7.40" height="21.50" stroke-width="1.4"/>
</g>
<g fill="#4fe08a" stroke="#4fe08a" fill-opacity="0.93" stroke-opacity="0.93">
<path d="M1617.5 499.5V504.0M1617.5 592.6V592.6" stroke-width="1.6" stroke-opacity="1" fill="none"/>
<rect x="1614.16" y="504.70" width="7.40" height="87.20" stroke-width="1.4"/>
</g>
<g fill="#ff7c82" stroke="#ff7c82" fill-opacity="0.93" stroke-opacity="0.93">
<path d="M1633.5 504.0V504.0M1633.5 508.6V508.6" stroke-width="1.6" stroke-opacity="1" fill="none"/>
<rect x="1629.87" y="504.70" width="7.40" height="3.20" stroke-width="1.4"/>
</g>
<g fill="#4fe08a" stroke="#4fe08a" fill-opacity="0.93" stroke-opacity="0.93">
<path d="M1649.5 421.6V430.1M1649.5 508.6V508.6" stroke-width="1.6" stroke-opacity="1" fill="none"/>
<rect x="1645.58" y="430.80" width="7.40" height="77.10" stroke-width="1.4"/>
</g>
<path d="M172.5 386.1 L188.2 381.2 L204.0 372.8 L219.7 379.5 L235.4 382.9 L251.1 376.7 L266.8 399.0 L282.5 415.6 L298.2 422.6 L313.9 442.7 L329.6 483.5 L345.4 476.5 L361.1 462.1 L376.8 462.1 L392.5 446.5 L408.2 425.1 L423.9 422.1 L439.6 422.3 L455.3 406.8 L471.0 412.5 L486.7 411.9 L502.4 421.1 L518.2 430.9 L533.9 435.1 L549.6 442.5 L565.3 441.0 L581.0 429.2 L596.7 434.8 L612.4 449.6 L628.1 448.4 L643.8 450.8 L659.6 466.5 L675.3 462.5 L691.0 453.4 L706.7 458.0 L722.4 463.9 L738.1 468.9 L753.8 466.5 L769.5 442.9 L785.2 414.1 L800.9 389.5 L816.7 340.9 L832.4 296.3 L848.1 278.0 L863.8 254.9 L879.5 251.7 L895.2 297.5 L910.9 343.5 L926.6 391.8 L942.3 419.2 L958.0 437.8 L973.8 434.2 L989.5 397.5 L1005.2 366.7 L1020.9 372.5 L1036.6 376.7 L1052.3 365.9 L1068.0 368.3 L1083.7 409.2 L1099.4 425.1 L1115.1 421.0 L1130.9 429.0 L1146.6 457.8 L1162.3 450.4 L1178.0 412.8 L1193.7 398.0 L1209.4 384.4 L1225.1 375.7 L1240.8 354.6 L1256.5 378.9 L1272.2 410.6 L1288.0 413.5 L1303.7 455.9 L1319.4 490.8 L1335.1 540.8 L1350.8 527.4 L1366.5 535.1 L1382.2 533.7 L1397.9 552.5 L1413.6 550.4 L1429.3 553.2 L1445.1 552.0 L1460.8 568.4 L1476.5 564.2 L1492.2 558.3 L1507.9 588.8 L1523.6 641.4 L1539.3 603.4 L1555.0 559.1 L1570.7 533.1 L1586.4 535.9 L1602.2 514.4 L1617.9 520.2 L1633.6 541.6 L1649.3 530.4" fill="none" stroke="#1f77b4" stroke-width="2.5" stroke-linejoin="round" stroke-linecap="square"/>
<path d="M251.1 381.4 L266.8 390.1 L282.5 394.2 L298.2 401.1 L313.9 412.8 L329.6 430.1 L345.4 437.7 L361.1 438.8 L376.8 442.4 L392.5 444.6 L408.2 454.3 L423.9 449.3 L439.6 442.2 L455.3 434.4 L471.0 429.5 L486.7 418.5 L502.4 421.6 L518.2 426.6 L533.9 420.9 L549.6 427.5 L565.3 426.5 L581.0 425.2 L596.7 432.9 L612.4 442.3 L628.1 445.5 L643.8 445.9 L659.6 447.9 L675.3 448.7 L691.0 451.5 L706.7 453.2 L722.4 457.4 L738.1 467.7 L753.8 464.5 L769.5 448.2 L785.2 436.0 L800.9 426.7 L816.7 404.9 L832.4 381.4 L848.1 360.5 L863.8 334.5 L879.5 320.6 L895.2 319.2 L910.9 319.9 L926.6 334.9 L942.3 337.0 L958.0 344.7 L973.8 365.8 L989.5 370.5 L1005.2 379.2 L1020.9 395.9 L1036.6 407.2 L1052.3 400.1 L1068.0 382.9 L1083.7 387.9 L1099.4 398.8 L1115.1 398.9 L1130.9 397.5 L1146.6 413.1 L1162.3 429.8 L1178.0 418.9 L1193.7 409.5 L1209.4 406.7 L1225.1 416.7 L1240.8 402.5 L1256.5 395.9 L1272.2 404.3 L1288.0 398.9 L1303.7 415.8 L1319.4 422.7 L1335.1 459.9 L1350.8 469.0 L1366.5 474.3 L1382.2 494.8 L1397.9 521.7 L1413.6 545.6 L1429.3 540.3 L1445.1 543.6 L1460.8 551.1 L1476.5 558.4 L1492.2 554.3 L1507.9 571.0 L1523.6 596.7 L1539.3 585.9 L1555.0 561.7 L1570.7 545.7 L1586.4 562.3 L1602.2 577.9 L1617.9 561.8 L1633.6 550.4 L1649.3 531.8" fill="none" stroke="#ff7f0e" stroke-width="2.5" stroke-linejoin="round" stroke-linecap="square"/>
<path d="M565.3 420.7 L581.0 421.5 L596.7 423.1 L612.4 425.9 L628.1 429.3 L643.8 431.5 L659.6 435.7 L675.3 438.0 L691.0 438.3 L706.7 441.8 L722.4 446.0 L738.1 447.4 L753.8 446.5 L769.5 441.6 L785.2 437.0 L800.9 430.4 L816.7 424.8 L832.4 418.9 L848.1 411.0 L863.8 405.1 L879.5 401.5 L895.2 404.0 L910.9 405.8 L926.6 408.5 L942.3 406.2 L958.0 405.8 L973.8 406.2 L989.5 400.2 L1005.2 397.1 L1020.9 394.5 L1036.6 395.1 L1052.3 395.7 L1068.0 389.1 L1083.7 390.3 L1099.4 390.6 L1115.1 390.1 L1130.9 389.4 L1146.6 388.3 L1162.3 389.8 L1178.0 383.1 L1193.7 379.1 L1209.4 375.3 L1225.1 373.2 L1240.8 375.1 L1256.5 377.2 L1272.2 382.6 L1288.0 387.4 L1303.7 399.8 L1319.4 410.6 L1335.1 424.9 L1350.8 428.6 L1366.5 427.0 L1382.2 431.5 L1397.9 437.4 L1413.6 446.7 L1429.3 447.8 L1445.1 446.7 L1460.8 460.0 L1476.5 470.3 L1492.2 477.7 L1507.9 483.2 L1523.6 492.6 L1539.3 499.1 L1555.0 495.3 L1570.7 495.7 L1586.4 502.3 L1602.2 506.8 L1617.9 509.5 L1633.6 510.5 L1649.3 515.3" fill="none" stroke="#2ca02c" stroke-width="2.5" stroke-linejoin="round" stroke-linecap="square"/>
<path d="M1036.6 407.9 L1052.3 408.6 L1068.0 406.1 L1083.7 408.1 L1099.4 409.9 L1115.1 410.8 L1130.9 412.6 L1146.6 413.2 L1162.3 414.0 L1178.0 412.4 L1193.7 412.6 L1209.4 411.4 L1225.1 409.9 L1240.8 408.4 L1256.5 407.1 L1272.2 406.5 L1288.0 406.1 L1303.7 409.3 L1319.4 410.8 L1335.1 415.0 L1350.8 415.0 L1366.5 415.5 L1382.2 418.6 L1397.9 422.9 L1413.6 426.5 L1429.3 426.8 L1445.1 426.4 L1460.8 430.1 L1476.5 433.7 L1492.2 436.1 L1507.9 439.1 L1523.6 444.1 L1539.3 444.1 L1555.0 442.8 L1570.7 443.2 L1586.4 446.2 L1602.2 448.1 L1617.9 448.9 L1633.6 450.2 L1649.3 449.2" fill="none" stroke="#d62728" stroke-width="2.5" stroke-linejoin="round" stroke-linecap="square"/>
<g stroke="#808080" stroke-width="1.67">
<path d="M1742.5 262H1749.8"/>
<path d="M1742.5 401H1749.8"/>
<path d="M1742.5 541H1749.8"/>
<path d="M1742.5 680H1749.8"/>
<path d="M1742.5 820H1749.8"/>
<path d="M1742.5 888H1749.8"/>
<path d="M1742.5 935H1749.8"/>
<path d="M1742.5 982H1749.8"/>
<path d="M1742.5 1029H1749.8"/>
<path d="M1742.5 1076H1749.8"/>
<path d="M1742.5 841H1749.8"/>
<path d="M109.0 1106V1113.3"/>
<path d="M423.2 1106V1113.3"/>
<path d="M738.0 1106V1113.3"/>
<path d="M1052.2 1106V1113.3"/>
<path d="M1366.0 1106V1113.3"/>
<path d="M1679.8 1106V1113.3"/>
</g>
<g font-family="'DejaVu Sans', 'Liberation Sans', sans-serif" font-size="20.4" fill="#808080">
<text x="1758" y="270.7">1.1</text>
<text x="1758" y="409.7">1.0</text>
<text x="1758" y="549.7">0.9</text>
<text x="1758" y="688.7">0.8</text>
<text x="1758" y="828.7">0.7</text>
<text x="1758" y="849.7">30000</text>
<text x="1758" y="896.7">25000</text>
<text x="1758" y="943.7">20000</text>
<text x="1758" y="990.7">15000</text>
<text x="1758" y="1037.7">10000</text>
<text x="1758" y="1084.7">5000</text>
<text transform="translate(128.2 1123) rotate(-45)" text-anchor="end" y="14" font-size="20.83">Aug 22</text>
<text transform="translate(442.2 1123) rotate(-45)" text-anchor="end" y="14" font-size="20.83">Sep 11</text>
<text transform="translate(755.0 1123) rotate(-45)" text-anchor="end" y="14" font-size="20.83">Oct 01</text>
<text transform="translate(1069.7 1123) rotate(-45)" text-anchor="end" y="14" font-size="20.83">Oct 21</text>
<text transform="translate(1384.5 1123) rotate(-45)" text-anchor="end" y="14" font-size="20.83">Nov 10</text>
</g>
<g font-family="'DejaVu Sans', 'Liberation Sans', sans-serif" fill="#000">
<text transform="translate(1816 502.5) rotate(-90)" text-anchor="middle" font-size="20.83">Price</text>
<text transform="translate(1847 974) rotate(-90)" text-anchor="middle" font-size="20.83">Volume</text>
<text x="782.3" y="34" text-anchor="middle" font-size="25.06" xml:space="preserve">ATEAM  2025-11-29  price</text>
</g>
</svg>
</body></html>
